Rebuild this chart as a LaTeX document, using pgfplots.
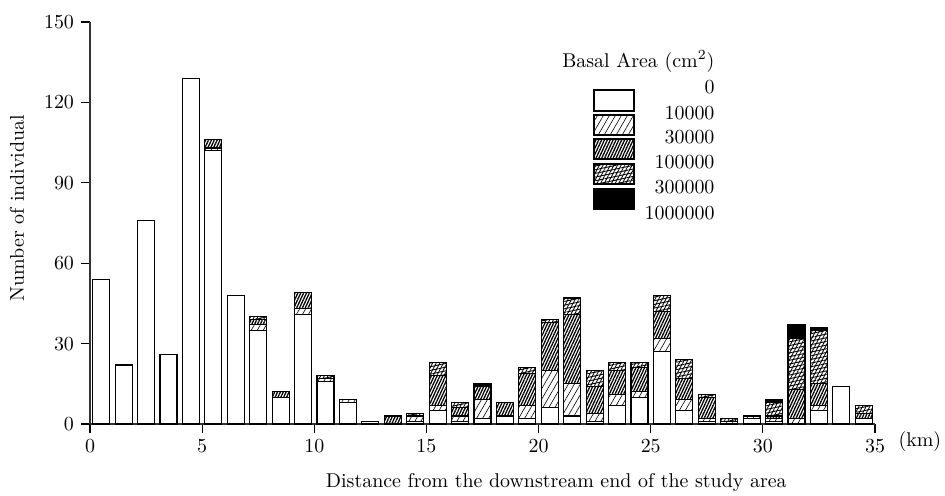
\documentclass[border=0pt]{standalone}
\usepackage{pgfplots}
\usepackage{pgfplotstable}
\pgfplotsset{compat=1.18}
\usetikzlibrary{patterns.meta}

\pgfplotstableread{
x    w   l   d   c   b
0.5  54  0   0   0   0
1.5  22  0   0   0   0
2.5  76  0   0   0   0
3.5  26  0   0   0   0
4.5  129 0   0   0   0
5.5  102 1   3   0   0
6.5  48  0   0   0   0
7.5  35  2   2   1   0
8.5  10  0   2   0   0
9.5  41  2   6   0   0
10.5 16  1   0   1   0
11.5 8   1   0   0   0
12.5 1   0   0   0   0
13.5 0   0   3   0   0
14.5 1   2   0   1   0
15.5 5   2   11  5   0
16.5 1   2   3   2   0
17.5 2   7   5   0   1
18.5 3   0   5   0   0
19.5 2   5   12  2   0
20.5 6   14  18  1   0
21.5 3   12  26  6   0
22.5 1   3   10  6   0
23.5 7   4   9   3   0
24.5 10  2   9   2   0
25.5 27  5   10  6   0
26.5 5   4   8   7   0
27.5 1   1   8   1   0
28.5 0   1   0   1   0
29.5 2   1   0   0   0
30.5 1   1   1   5   1
31.5 0   2   11  19  5
32.5 5   2   8   20  1
33.5 14  0   0   0   0
34.5 2   0   2   3   0
}\data

\tikzset{
  lightp/.style={pattern={Lines[angle=60,distance=2.6bp,line width=0.3bp]}},
  densep/.style={pattern={Lines[angle=65,distance=1.3bp,line width=0.65bp]}},
  crossp/.style={pattern={Lines[angle=62,distance=1.6bp,line width=0.4bp]},
                 postaction={pattern={Lines[angle=12,distance=1.8bp,line width=0.45bp]}}},
}

\begin{document}
\begin{tikzpicture}[x=1bp,y=1bp]
\begin{axis}[
  at={(0,0)}, anchor=south west,
  scale only axis, width=392.5bp, height=201bp,
  xmin=0, xmax=35, ymin=0, ymax=150,
  axis lines*=left,
  ybar stacked, bar width=0.76,
  xtick={0,5,...,35}, ytick={0,30,...,150},
  tick align=outside,
  major tick length=4.5bp,
  tick style={black, line width=0.6bp},
  axis line style={black!80, line width=0.7bp},
  clip=false,
  xlabel={Distance from the downstream end of the study area},
  ylabel={Number of individual},
  xlabel style={at={(axis description cs:0.594,-0.146)}, anchor=center},
  ylabel style={at={(axis description cs:-0.093,0.537)}, anchor=center},
]
\addplot[draw=black, fill=white, line width=0.55bp] table[x=x,y=w]{\data};
\addplot[draw=black, lightp, line width=0.55bp] table[x=x,y=l]{\data};
\addplot[draw=black, densep, line width=0.55bp] table[x=x,y=d]{\data};
\addplot[draw=black, crossp, line width=0.55bp] table[x=x,y=c]{\data};
\addplot[draw=black, fill=black, line width=0.55bp] table[x=x,y=b]{\data};
\end{axis}
% legend (px -> bp: x'=(x-90)/2, y'=(424-y)/2)
\begin{scope}[line width=0.55bp]
\node[anchor=base east, inner sep=0pt] at (312.5,178.5) {Basal Area (cm$^2$)};
\draw[fill=white] (252,167) rectangle (272,156.5);
\draw[lightp] (252,154.5) rectangle (272,144.5);
\draw[densep] (252,142.5) rectangle (272,132.5);
\draw[crossp] (252,130) rectangle (272,120);
\draw[fill=black] (252,117.5) rectangle (272,107.5);
\node[anchor=base east, inner sep=0pt] at (312.5,165.5) {0};
\node[anchor=base east, inner sep=0pt] at (312.5,152.5) {10000};
\node[anchor=base east, inner sep=0pt] at (312.5,140.5) {30000};
\node[anchor=base east, inner sep=0pt] at (312.5,128) {100000};
\node[anchor=base east, inner sep=0pt] at (312.5,115.5) {300000};
\node[anchor=base east, inner sep=0pt] at (312.5,102.5) {1000000};
\node[anchor=base west, inner sep=0pt] at (404,-11) {(km)};
\end{scope}
\pgfresetboundingbox
\path (-45,-35.5) rectangle (427.5,212);
\end{tikzpicture}
\end{document}
